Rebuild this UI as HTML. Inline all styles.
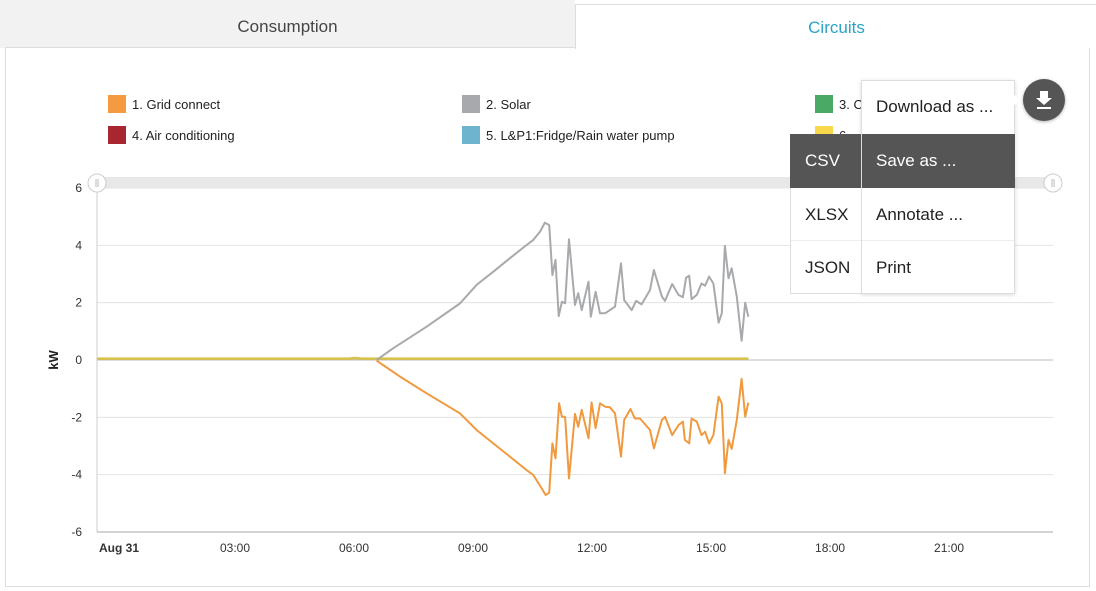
<!DOCTYPE html>
<html><head><meta charset="utf-8"><style>
body{margin:0;width:1096px;height:591px;background:#fff;font-family:"Liberation Sans",sans-serif;position:relative;overflow:hidden}
.tab{position:absolute;top:0;height:48px;line-height:54px;text-align:center;font-size:17px}
.leg{position:absolute;font-size:13px;color:#222}
.leg i{position:absolute;left:0;top:0;width:18px;height:18px}
.leg span{position:absolute;left:24px;top:2px;white-space:nowrap}
.mi{position:absolute;font-size:17px;color:#222;line-height:54px}
</style></head><body>
<div class="tab" style="left:0;width:575px;background:#f2f2f2;color:#444">Consumption</div>
<div class="tab" style="left:575px;width:521px;top:4px;height:44px;line-height:46px;background:#fff;border-left:1px solid #ddd;border-top:1px solid #ddd;color:#2aa3c9">Circuits</div>
<div style="position:absolute;left:5px;top:48px;width:1085px;height:539px;border:1px solid #ddd;border-top:none;box-sizing:border-box"></div>
<div style="position:absolute;left:5px;top:47px;width:570px;height:1px;background:#ddd"></div>

<div class="leg" style="left:108px;top:95px"><i style="background:#f49b3f"></i><span>1. Grid connect</span></div>
<div class="leg" style="left:462px;top:95px"><i style="background:#a7a9ac"></i><span>2. Solar</span></div>
<div class="leg" style="left:815px;top:95px"><i style="background:#4aa964"></i><span>3. C</span></div>
<div class="leg" style="left:108px;top:126px"><i style="background:#a8262f"></i><span>4. Air conditioning</span></div>
<div class="leg" style="left:462px;top:126px"><i style="background:#6fb4cf"></i><span>5. L&amp;P1:Fridge/Rain water pump</span></div>
<div class="leg" style="left:815px;top:126px"><i style="background:#f8d74a"></i><span>6.</span></div>

<svg id="chart" width="1096" height="591" style="position:absolute;left:0;top:0"></svg>

<div style="position:absolute;left:861px;top:80px;width:154px;height:214px;background:#fff;border:1px solid #ddd;box-sizing:border-box;box-shadow:0 1px 4px rgba(0,0,0,.15)"></div>
<div style="position:absolute;left:790px;top:134px;width:72px;height:160px;background:#fff;border:1px solid #ddd;box-sizing:border-box"></div>
<div style="position:absolute;left:790px;top:134px;width:225px;height:54px;background:#555"></div>
<div style="position:absolute;left:861px;top:134px;width:1px;height:160px;background:#ddd"></div>
<div class="mi" style="left:876px;top:80px">Download as ...</div>
<div class="mi" style="left:805px;top:134px;color:#fff">CSV</div>
<div class="mi" style="left:876px;top:134px;color:#fff">Save as ...</div>
<div class="mi" style="left:805px;top:188px">XLSX</div>
<div class="mi" style="left:876px;top:188px">Annotate ...</div>
<div class="mi" style="left:805px;top:241px">JSON</div>
<div class="mi" style="left:876px;top:241px">Print</div>
<div style="position:absolute;left:862px;top:240px;width:152px;height:1px;background:#eee"></div>
<div style="position:absolute;left:791px;top:240px;width:70px;height:1px;background:#eee"></div>
<div style="position:absolute;left:1023px;top:79px;width:42px;height:42px;border-radius:50%;background:#555;box-shadow:0 1px 3px rgba(0,0,0,.3)">
<svg width="42" height="42"><path d="M17 12h8v7h4l-8 7-8-7h4z" fill="#fff"/><rect x="14" y="28" width="14" height="2" fill="#fff"/></svg></div>
<div style="position:absolute;left:1013px;top:94px;width:0;height:0;border-top:6px solid transparent;border-bottom:6px solid transparent;border-left:7px solid #fff"></div>

<script>
const yTicks=[6,4,2,0,-2,-4,-6];
const xTickHours=[0,3,6,9,12,15,18,21];
const xTickLabels=["Aug 31","03:00","06:00","09:00","12:00","15:00","18:00","21:00"];
const solarTimes=[6.57,6.99,7.83,8.67,9.09,9.51,9.93,10.35,10.52,10.69,10.81,10.92,11.00,11.08,11.16,11.24,11.32,11.42,11.57,11.65,11.74,11.91,11.97,12.09,12.20,12.33,12.45,12.58,12.73,12.81,13.00,13.11,13.25,13.46,13.56,13.76,13.84,14.02,14.18,14.29,14.37,14.45,14.51,14.64,14.76,14.85,14.95,15.06,15.19,15.27,15.35,15.44,15.52,15.65,15.77,15.86,15.94];
const solarValues=[0.00,0.41,1.16,1.97,2.62,3.08,3.55,4.01,4.19,4.48,4.79,4.71,2.96,3.49,1.53,2.03,1.98,4.21,1.92,2.33,1.74,2.73,1.51,2.38,1.63,1.63,1.74,1.86,3.37,2.09,1.74,2.06,1.94,2.44,3.14,2.21,2.06,2.65,2.27,2.19,2.87,2.94,2.12,2.27,2.67,2.59,2.91,2.67,1.30,1.63,3.98,2.85,3.20,2.21,0.67,2.00,1.51];
const gridTimes=[6.57,7.16,7.83,8.67,9.09,9.51,9.93,10.35,10.52,10.73,10.83,10.92,11.00,11.08,11.17,11.24,11.32,11.42,11.57,11.65,11.74,11.91,11.99,12.09,12.20,12.33,12.45,12.58,12.73,12.81,12.97,13.08,13.21,13.46,13.56,13.76,13.84,14.02,14.18,14.29,14.34,14.45,14.51,14.64,14.76,14.85,14.95,15.06,15.19,15.27,15.35,15.44,15.52,15.65,15.77,15.86,15.94];
const gridValues=[-0.02,-0.58,-1.16,-1.86,-2.44,-2.91,-3.37,-3.84,-4.01,-4.48,-4.71,-4.63,-2.91,-3.43,-1.51,-1.98,-1.98,-4.13,-1.88,-2.33,-1.74,-2.73,-1.48,-2.38,-1.51,-1.63,-1.65,-1.86,-3.37,-2.09,-1.71,-2.04,-2.04,-2.44,-3.08,-2.09,-1.98,-2.62,-2.27,-2.15,-2.79,-2.91,-2.04,-2.15,-2.62,-2.50,-2.91,-2.62,-1.28,-1.51,-3.95,-2.79,-3.10,-2.09,-0.66,-1.98,-1.49];
const flatTimes=[-0.5,5.9,6.0,6.2,15.94];
const flatValues=[0.05,0.05,0.07,0.05,0.05];

const NS="http://www.w3.org/2000/svg";
const svg=document.getElementById('chart');
const L=97,R=1053,T=188,B=532;
const x=h=>116+h*39.67;
const y=v=>360-v*28.67;
function mk(tag,attrs,parent){const e=document.createElementNS(NS,tag);for(const k in attrs)e.setAttribute(k,attrs[k]);(parent||svg).appendChild(e);return e;}
// navigator
let nav=mk('rect',{x:L,y:177,width:R-L,height:11,fill:'#e8e8e8'});


yTicks.forEach(v=>{
  let g=mk('line',{x1:L,x2:R,y1:y(v),y2:y(v),stroke:v===0?'#bbb':'#e3e3e3','stroke-width':1});
  
  
  let t=mk('text',{x:82,y:y(v)+4,'text-anchor':'end','font-size':12,fill:'#333','font-family':'Liberation Sans'});
  t.textContent=v;
  
  
});
let ya=mk('line',{x1:L,x2:L,y1:T,y2:B,stroke:'#ccc'});


let xa=mk('line',{x1:L,x2:R,y1:B,y2:B,stroke:'#aaa'});


let yt=mk('text',{x:58,y:360,'text-anchor':'middle','font-size':13,'font-weight':'bold',fill:'#222',transform:'rotate(-90 58 360)','font-family':'Liberation Sans'});
yt.textContent='kW';


xTickHours.forEach((h,i)=>{
  let t=mk('text',{x:i===0?99:x(h),y:552,'text-anchor':i===0?'start':'middle','font-size':12,fill:'#333','font-weight':i===0?'bold':'normal','font-family':'Liberation Sans'});
  t.textContent=xTickLabels[i];
  
  
});
function line(ts,vs,color,name,w){
  const d=ts.map((t,i)=>(i?'L':'M')+Math.max(L,x(t)).toFixed(1)+' '+y(vs[i]).toFixed(1)).join(' ');
  let p=mk('path',{d:d,fill:'none',stroke:color,'stroke-width':w||2,'stroke-linejoin':'round'});
  
  
}
line(flatTimes,flatValues,'#4aa964','series-circuit-3',2);
line(flatTimes,flatValues,'#d9c24a','series-circuit-6',2.5);
line(solarTimes,solarValues,'#a7a9ac','series-solar',2);
line(gridTimes,gridValues,'#f0993f','series-grid-connect',2);
[L,R].forEach((hx,i)=>{
  let c=mk('circle',{cx:hx,cy:183,r:9,fill:'#fff',stroke:'#ccc'});
  
  
  mk('line',{x1:hx-1,x2:hx-1,y1:179,y2:187,stroke:'#bbb'});
  mk('line',{x1:hx+1,x2:hx+1,y1:179,y2:187,stroke:'#bbb'});
});
</script>
</body></html>
